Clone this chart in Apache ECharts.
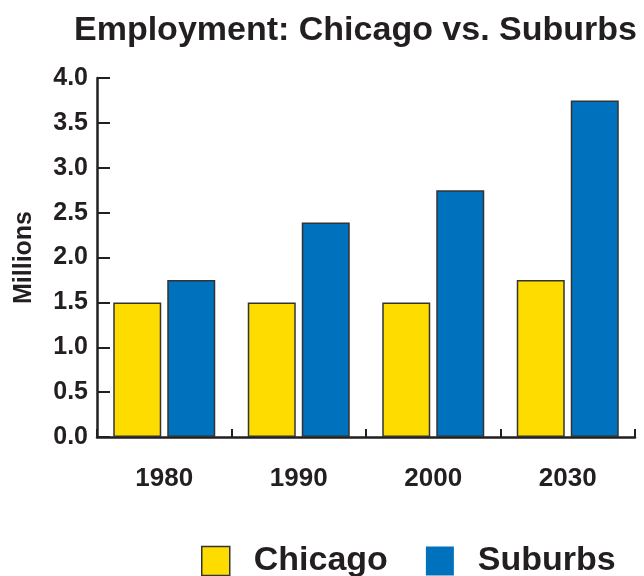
<!DOCTYPE html>
<html>
<head>
<meta charset="utf-8">
<script src="https://cdn.jsdelivr.net/npm/echarts@6/dist/echarts.min.js"></script>
<style>html,body{margin:0;padding:0;background:#fff;}#c{width:644px;height:576px;}</style>
</head>
<body>
<div id="c"></div>
<script>
const categories = ['1980', '1990', '2000', '2030'];
const chicago = [1.5, 1.5, 1.5, 1.75];
const suburbs = [1.75, 2.39, 2.75, 3.75];
const yTicks = { min: 0, max: 4, interval: 0.5 };

const FONT = '"Liberation Sans", Arial, Helvetica, sans-serif';
const INK = '#231F20';
const chart = echarts.init(document.getElementById('c'));
chart.setOption({
  animation: false,
  backgroundColor: '#fff',
  title: {
    text: 'Employment: Chicago vs. Suburbs',
    left: 69, top: 9,
    textStyle: { fontFamily: FONT, fontWeight: 'bold', fontSize: 34, color: INK }
  },
  legend: {
    left: 196, top: 539,
    icon: 'rect',
    itemWidth: 28, itemHeight: 29,
    itemGap: 38,
    textStyle: { fontFamily: FONT, fontWeight: 'bold', fontSize: 34, color: INK, padding: [0, 0, 0, 19] },
    data: [
      { name: 'Chicago', itemStyle: { borderColor: '#333', borderWidth: 1.5 } },
      { name: 'Suburbs', itemStyle: { borderWidth: 0 } }
    ]
  },
  grid: { left: 97, right: 9, top: 78, bottom: 139, containLabel: false },
  xAxis: {
    type: 'category',
    data: categories,
    axisLine: { lineStyle: { color: INK, width: 2.5 } },
    axisTick: { show: true, inside: true, length: 8, alignWithLabel: false, lineStyle: { color: INK, width: 2 } },
    axisLabel: { margin: 29, fontFamily: FONT, fontWeight: 'bold', fontSize: 26, color: INK },
    splitLine: { show: false }
  },
  yAxis: {
    type: 'value',
    min: yTicks.min, max: yTicks.max, interval: yTicks.interval,
    name: 'Millions',
    nameLocation: 'middle',
    nameGap: 60,
    nameTextStyle: { fontFamily: FONT, fontWeight: 'bold', fontSize: 25, color: INK },
    axisLine: { show: true, lineStyle: { color: INK, width: 2.5 } },
    axisTick: { show: true, inside: true, length: 13, lineStyle: { color: INK, width: 2 } },
    axisLabel: { margin: 9, fontFamily: FONT, fontWeight: 'bold', fontSize: 25, color: INK,
      formatter: v => v.toFixed(1) },
    splitLine: { show: false }
  },
  series: [
    {
      name: 'Chicago', type: 'bar', data: chicago,
      barWidth: 48, barGap: '12.5%',
      itemStyle: { color: '#FFDC00', borderColor: '#333', borderWidth: 1.5 }
    },
    {
      name: 'Suburbs', type: 'bar', data: suburbs,
      barWidth: 48, barGap: '12.5%',
      itemStyle: { color: '#0071BC', borderColor: '#333', borderWidth: 1.5 }
    }
  ]
});
</script>
</body>
</html>
